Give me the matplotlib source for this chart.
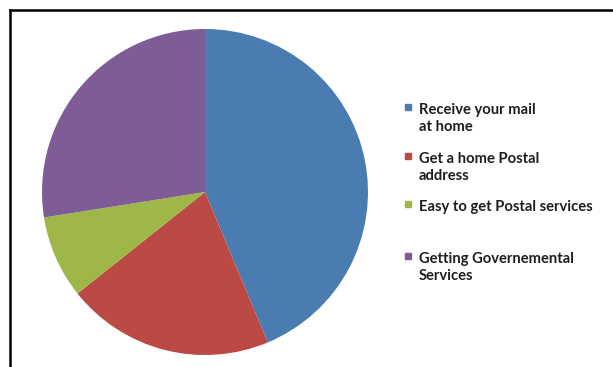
import matplotlib.pyplot as plt
from matplotlib.lines import Line2D
from matplotlib.patches import Rectangle

labels = ['Receive your mail\nat home',
          'Get a home Postal\naddress',
          'Easy to get Postal services',
          'Getting Governemental\nServices']
shares = [43.7, 20.6, 8.2, 27.5]
colors = ['#4a7bb1', '#bb4944', '#9fb748', '#7e5c95']

W, H = 613, 367
fig = plt.figure(figsize=(W / 100, H / 100), dpi=100)

# pie centred at (205, 192) px, radius 163 px
cx, cy, r = 205, 192, 163
ax = fig.add_axes([(cx - r) / W, (H - cy - r) / H, 2 * r / W, 2 * r / H])
ax.pie(shares, colors=colors, startangle=90, counterclock=False,
       wedgeprops=dict(linewidth=0))
ax.set_xlim(-1, 1)
ax.set_ylim(-1, 1)
ax.axis('off')

# legend drawn by hand, the gaps between entries are uneven
legend_top = [103, 152, 200, 252]
for lab, col, ty in zip(labels, colors, legend_top):
    fig.patches.append(Rectangle((405 / W, 1 - (ty + 7) / H), 6.5 / W, 6.5 / H,
                                 transform=fig.transFigure, color=col))
    fig.text(419 / W, 1 - ty / H, lab, ha='left', va='top',
             fontsize=10.6, family='Lato', weight='bold', color='#1e1e1e',
             linespacing=1.25)

# frame: only the top and left edges are in view
fig.lines.append(Line2D([10 / W, 1], [1 - 10 / H, 1 - 10 / H],
                        transform=fig.transFigure, color='black', lw=1.8))
fig.lines.append(Line2D([10 / W, 10 / W], [0, 1 - 10 / H],
                        transform=fig.transFigure, color='black', lw=1.8))

fig.savefig('out.png', dpi=100)
